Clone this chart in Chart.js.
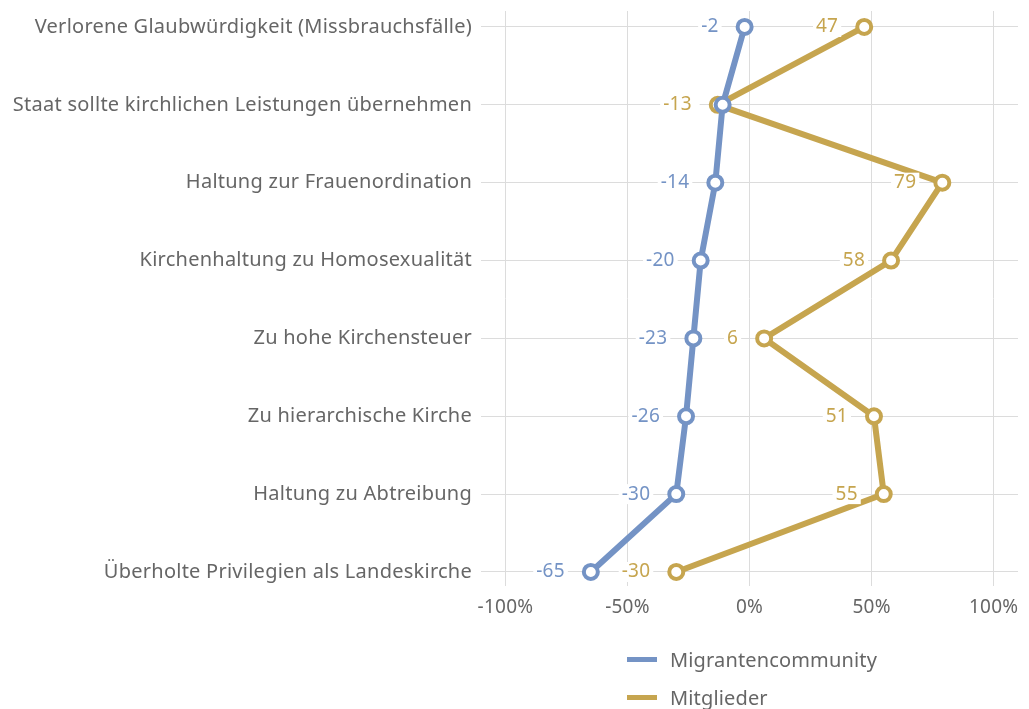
<!DOCTYPE html>
<html>
<head>
<meta charset="utf-8">
<script src="https://cdn.jsdelivr.net/npm/chart.js@4"></script>
<style>
  html, body { margin: 0; padding: 0; background: #fff; }
  #wrap { position: relative; width: 1029px; height: 709px; }
  #legend { position: absolute; left: 627px; top: 640px; font-family: "Noto Sans", sans-serif; font-size: 20px; letter-spacing: 0.15px; color: #666; }
  .item { display: flex; align-items: center; height: 38px; }
  .swatch { width: 30px; height: 5px; margin-right: 13px; }
</style>
</head>
<body>
<div id="wrap">
  <canvas id="c" width="1029" height="709"></canvas>
  <div id="legend"></div>
</div>
<script>
const categories = [
  "Verlorene Glaubwürdigkeit (Missbrauchsfälle)",
  "Staat sollte kirchlichen Leistungen übernehmen",
  "Haltung zur Frauenordination",
  "Kirchenhaltung zu Homosexualität",
  "Zu hohe Kirchensteuer",
  "Zu hierarchische Kirche",
  "Haltung zu Abtreibung",
  "Überholte Privilegien als Landeskirche"
];
const seriesNames = ["Migrantencommunity", "Mitglieder"];
const migranten = [-2, -11, -14, -20, -23, -26, -30, -65];
const mitglieder = [47, -13, 79, 58, 6, 51, 55, -30];
const xTicks = [-100, -50, 0, 50, 100];
const colors = ["#7493c5", "#c6a54f"];

const FONT = '"Noto Sans", sans-serif';

const spacingPlugin = {
  id: 'spacing',
  beforeInit(chart) { chart.ctx.letterSpacing = '0.25px'; },
  beforeDraw(chart) { chart.ctx.letterSpacing = '0.25px'; }
};

const labelPlugin = {
  id: 'valueLabels',
  afterDatasetsDraw(chart) {
    const ctx = chart.ctx;
    ctx.save();
    ctx.font = '19px ' + FONT;
    ctx.textAlign = 'right';
    ctx.textBaseline = 'middle';
    chart.data.datasets.forEach((ds, di) => {
      const meta = chart.getDatasetMeta(di);
      meta.data.forEach((pt, i) => {
        const txt = String(ds.data[i].x);
        const w = ctx.measureText(txt).width;
        const xr = pt.x - 26;
        ctx.fillStyle = '#fff';
        ctx.fillRect(xr - w - 3, pt.y - 10, w + 6, 20);
        ctx.fillStyle = ds.borderColor;
        ctx.fillText(txt, xr, pt.y);
      });
    });
    ctx.restore();
  }
};

const datasets = [migranten, mitglieder].map((arr, k) => ({
  label: seriesNames[k],
  data: arr.map((v, i) => ({ x: v, y: i })),
  borderColor: colors[k],
  backgroundColor: colors[k],
  borderWidth: 6,
  pointRadius: 7,
  pointHoverRadius: 7,
  pointBorderWidth: 4,
  pointBackgroundColor: '#fff',
  pointBorderColor: colors[k],
  clip: false,
  tension: 0
}));

new Chart(document.getElementById('c'), {
  type: 'line',
  data: { datasets },
  plugins: [spacingPlugin, labelPlugin],
  options: {
    responsive: false,
    animation: false,
    layout: { padding: { top: 10, right: 7, bottom: 83, left: 0 } },
    plugins: { legend: { display: false }, tooltip: { enabled: false } },
    scales: {
      x: {
        type: 'linear',
        min: -110, max: 110,
        afterBuildTicks: s => { s.ticks = xTicks.map(v => ({ value: v })); },
        afterFit: s => { s.height = 40; s.paddingLeft = 0; s.paddingRight = 0; },
        grid: { color: '#dcdcdc', lineWidth: 1, drawTicks: false },
        border: { display: false },
        ticks: { padding: 10, color: '#666', font: { size: 19, family: FONT }, callback: v => v + '%' }
      },
      y: {
        type: 'linear',
        reverse: true,
        min: -0.205, max: 7.18,
        afterBuildTicks: s => { s.ticks = categories.map((c, i) => ({ value: i })); },
        afterFit: s => { s.width = 481; s.paddingTop = 0; s.paddingBottom = 0; },
        grid: { color: '#dcdcdc', lineWidth: 1, drawTicks: false },
        border: { display: false },
        ticks: { padding: 9, color: '#666', font: { size: 20, family: FONT }, callback: v => categories[v] }
      }
    }
  }
});

const lg = document.getElementById('legend');
seriesNames.forEach((n, k) => {
  const d = document.createElement('div');
  d.className = 'item';
  d.innerHTML = '<span class="swatch" style="background:' + colors[k] + '"></span><span>' + n + '</span>';
  lg.appendChild(d);
});
</script>
</body>
</html>
